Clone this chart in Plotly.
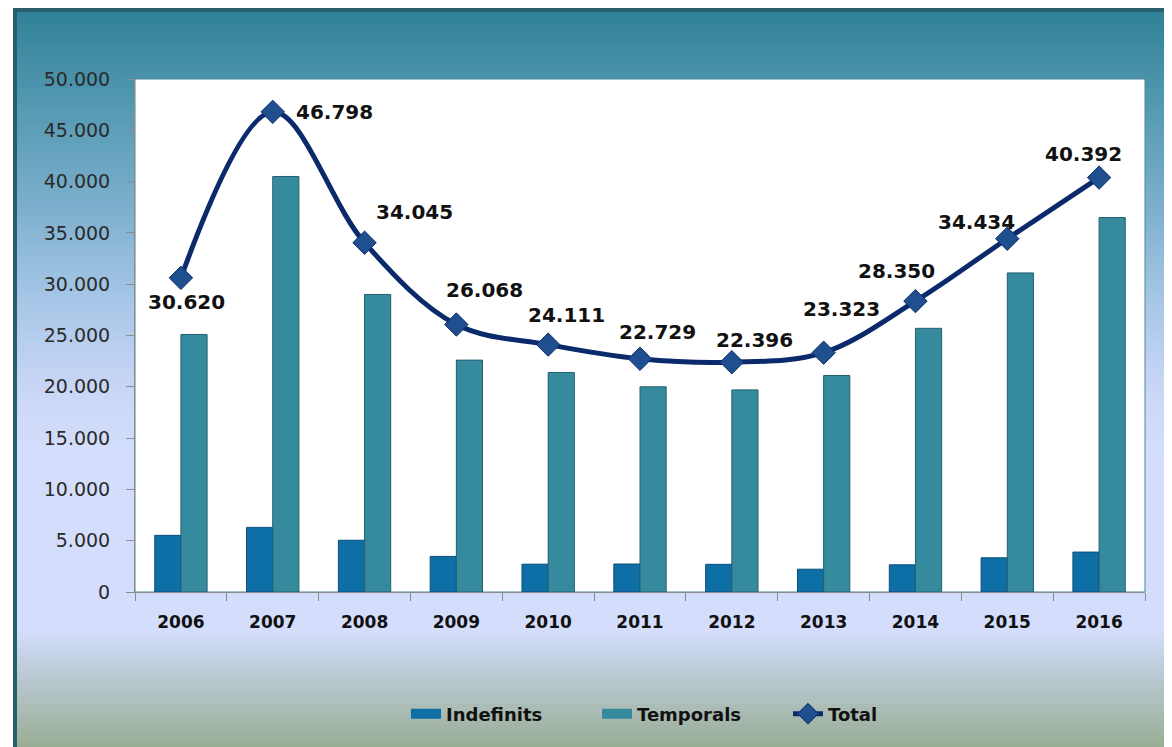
import plotly.graph_objects as go

years = ["2006", "2007", "2008", "2009", "2010", "2011", "2012", "2013", "2014", "2015", "2016"]
indefinits = [5520, 6298, 5045, 3468, 2711, 2729, 2696, 2223, 2650, 3334, 3892]
temporals = [25100, 40500, 29000, 22600, 21400, 20000, 19700, 21100, 25700, 31100, 36500]
total = [30620, 46798, 34045, 26068, 24111, 22729, 22396, 23323, 28350, 34434, 40392]
y_ticks = [0, 5000, 10000, 15000, 20000, 25000, 30000, 35000, 40000, 45000, 50000]

# label offsets (px) for the Total data labels
label_dx = [6, 62, 50, 28, 18, 17, 23, 18, -19, -31, -16]
label_dy = [-24, 0, 31, 35, 30, 27, 22, 44, 30, 17, 24]

# page body has an 8px margin, so figure pixel = screen pixel - 8
OFF = 8
W, H = 1172 - OFF, 747 - OFF
L, R, T, B = 135 - OFF, 1145 - OFF, 79 - OFF, 592 - OFF

C_IND = "#0e6fa6"
C_TEM = "#368a9e"


def px_to_paper_x(px):
    return (px - L) / (R - L)


def px_to_paper_y(py):
    return (B - py) / (B - T)


def fmt(v):
    return f"{v:,}".replace(",", ".")


def hex_to_rgb(h):
    h = h.lstrip("#")
    return tuple(int(h[i:i + 2], 16) for i in (0, 2, 4))


stops = [(0, "#2e8096"), (72, "#4a93ab"), (192, "#79aecb"), (292, "#a7c6e7"),
         (392, "#cdd8f8"), (452, "#d4defc"), (622, "#d4defc"), (672, "#b8c7cf"),
         (740, "#98ad93")]


def color_at(py):
    for (y0, c0), (y1, c1) in zip(stops[:-1], stops[1:]):
        if y0 <= py <= y1:
            t = (py - y0) / (y1 - y0) if y1 > y0 else 0
            a, b = hex_to_rgb(c0), hex_to_rgb(c1)
            return "rgb(%d,%d,%d)" % tuple(round(a[i] + (b[i] - a[i]) * t) for i in range(3))
    return stops[-1][1]


shapes = []
step = 4
py = 0
while py < H:
    shapes.append(dict(type="rect", xref="paper", yref="paper", layer="below",
                       x0=px_to_paper_x(5), x1=px_to_paper_x(W + 2),
                       y0=px_to_paper_y(py), y1=px_to_paper_y(min(py + step + 1, H + 2)),
                       line=dict(width=0), fillcolor=color_at(py + step / 2)))
    py += step

# frame border (top and left)
shapes.append(dict(type="rect", xref="paper", yref="paper", layer="below",
                   x0=px_to_paper_x(5), x1=px_to_paper_x(W + 2),
                   y0=px_to_paper_y(0), y1=px_to_paper_y(4),
                   line=dict(width=0), fillcolor="#2b5f6b"))
shapes.append(dict(type="rect", xref="paper", yref="paper", layer="below",
                   x0=px_to_paper_x(5), x1=px_to_paper_x(9),
                   y0=px_to_paper_y(0), y1=px_to_paper_y(H + 2),
                   line=dict(width=0), fillcolor="#2b5f6b"))
# plot area
shapes.append(dict(type="rect", xref="paper", yref="paper", layer="below",
                   x0=0, x1=1, y0=0, y1=1,
                   line=dict(width=1, color="#4a8797"), fillcolor="white"))

fig = go.Figure()
fig.add_trace(go.Bar(x=years, y=indefinits, name="Indefinits", legendgroup="ind",
                     showlegend=False,
                     marker=dict(color=C_IND, line=dict(color="#0a4f78", width=1))))
fig.add_trace(go.Bar(x=years, y=temporals, name="Temporals", legendgroup="tem",
                     showlegend=False,
                     marker=dict(color=C_TEM, line=dict(color="#22606f", width=1))))
# legend keys drawn as wide bars (as in the original legend)
fig.add_trace(go.Scatter(x=[None], y=[None], mode="lines", name="Indefinits", legendgroup="ind",
                         line=dict(color=C_IND, width=12), hoverinfo="skip"))
fig.add_trace(go.Scatter(x=[None], y=[None], mode="lines", name="Temporals", legendgroup="tem",
                         line=dict(color=C_TEM, width=12), hoverinfo="skip"))
fig.add_trace(go.Scatter(x=years, y=total, name="Total", mode="lines+markers", legendgroup="tot",
                         line=dict(color="#0b2a6b", width=5, shape="spline", smoothing=1.0),
                         marker=dict(symbol="diamond", size=18, color="#1f4f8f",
                                     line=dict(color="#0d2d6b", width=1))))

annotations = []
for i, (v, dx, dy) in enumerate(zip(total, label_dx, label_dy)):
    annotations.append(dict(x=i, y=v, xref="x", yref="y", text=fmt(v), showarrow=False,
                            xshift=dx, yshift=dy,
                            font=dict(family="DejaVu Sans", size=20, color="#111111", weight="bold")))

fig.update_layout(
    width=W, height=H,
    margin=dict(l=L, r=W - R, t=T, b=H - B, pad=0, autoexpand=False),
    paper_bgcolor="white",
    plot_bgcolor="rgba(0,0,0,0)",
    separators=",.",
    barmode="group",
    bargap=0.43,
    bargroupgap=0.0,
    shapes=shapes,
    annotations=annotations,
    showlegend=True,
    legend=dict(orientation="h", x=px_to_paper_x(406 - OFF), xanchor="left",
                y=px_to_paper_y(714 - OFF), yanchor="middle", bgcolor="rgba(0,0,0,0)",
                font=dict(family="DejaVu Sans", size=18, color="#111111", weight="bold"),
                entrywidth=146, entrywidthmode="pixels", tracegroupgap=0,
                traceorder="normal"),
    font=dict(family="DejaVu Sans"),
)
fig.update_xaxes(type="category", range=[-0.5, len(years) - 0.5], showline=True,
                 linecolor="#8c8c8c", linewidth=1,
                 ticks="outside", tickson="boundaries", ticklen=8, tickcolor="#8c8c8c",
                 showgrid=False, ticklabelstandoff=15, tickangle=0, automargin=False,
                 tickfont=dict(family="DejaVu Sans", size=17, color="#111111", weight="bold"))
fig.update_yaxes(range=[0, 50000], tickvals=y_ticks, ticktext=[fmt(v) for v in y_ticks],
                 showline=True, linecolor="#8c8c8c", linewidth=1, ticks="outside", ticklen=8,
                 tickcolor="#8c8c8c", showgrid=False, zeroline=False, ticklabelstandoff=12,
                 automargin=False,
                 tickfont=dict(family="DejaVu Sans", size=19, color="#2a2a2a"))

fig.write_html("out.html")
